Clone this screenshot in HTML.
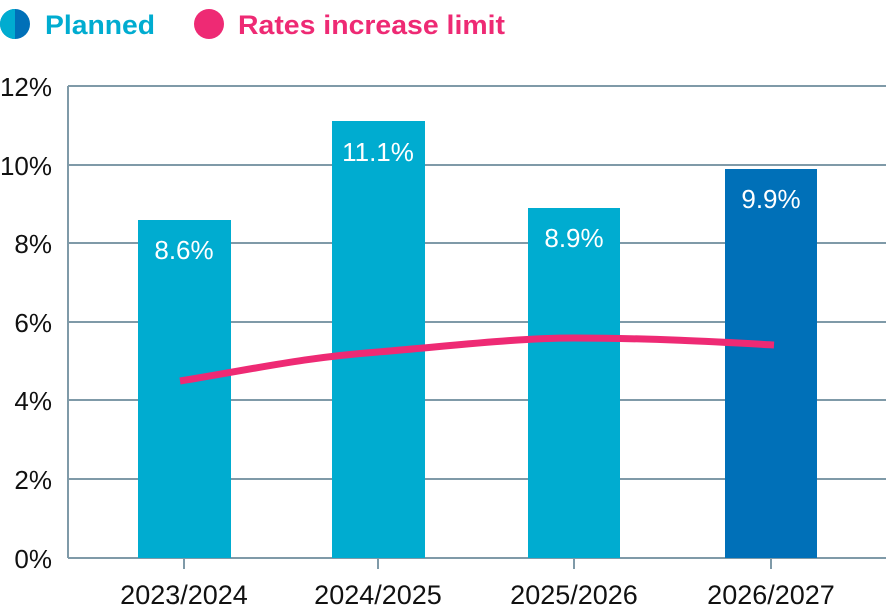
<!DOCTYPE html>
<html><head><meta charset="utf-8"><style>
html,body{margin:0;padding:0;background:#fff;}
svg{display:block;font-family:"Liberation Sans","DejaVu Sans",sans-serif;}
</style></head><body>
<svg width="886" height="616" viewBox="0 0 886 616" xmlns="http://www.w3.org/2000/svg">
<defs><clipPath id="lh"><rect x="0" y="0" width="15" height="50"/></clipPath></defs>
<circle cx="15" cy="24" r="15" fill="#0070b8"/>
<circle cx="15" cy="24" r="15" fill="#00acd0" clip-path="url(#lh)"/>
<text x="45" y="34" font-size="27" font-weight="bold" fill="#00acd0" textLength="110" lengthAdjust="spacingAndGlyphs">Planned</text>
<circle cx="209" cy="24" r="15" fill="#ee2a74"/>
<text x="238" y="34" font-size="27" font-weight="bold" fill="#ee2a74" textLength="267" lengthAdjust="spacingAndGlyphs">Rates increase limit</text>
<g stroke="#7f9aa8" stroke-width="2">
<line x1="68" y1="86" x2="886" y2="86"/>
<line x1="68" y1="165" x2="886" y2="165"/>
<line x1="68" y1="243" x2="886" y2="243"/>
<line x1="68" y1="322" x2="886" y2="322"/>
<line x1="68" y1="400" x2="886" y2="400"/>
<line x1="68" y1="479" x2="886" y2="479"/>
<line x1="68" y1="558" x2="886" y2="558"/>
<line x1="68" y1="86" x2="68" y2="558"/>
<line x1="184" y1="558" x2="184" y2="569"/>
<line x1="378" y1="558" x2="378" y2="569"/>
<line x1="574" y1="558" x2="574" y2="569"/>
<line x1="771" y1="558" x2="771" y2="569"/>
</g>
<g font-size="26" fill="#111" text-anchor="end">
<text x="52" y="96">12%</text>
<text x="52" y="175">10%</text>
<text x="52" y="253">8%</text>
<text x="52" y="332">6%</text>
<text x="52" y="410">4%</text>
<text x="52" y="489">2%</text>
<text x="52" y="568">0%</text>
</g>
<rect x="138" y="220" width="93" height="338" fill="#00acd0"/>
<rect x="332" y="121" width="93" height="437" fill="#00acd0"/>
<rect x="528" y="208" width="92" height="350" fill="#00acd0"/>
<rect x="725" y="169" width="92" height="389" fill="#0070b8"/>
<g font-size="26" fill="#fff" text-anchor="middle">
<text x="184" y="259">8.6%</text>
<text x="378" y="161">11.1%</text>
<text x="574" y="247">8.9%</text>
<text x="771" y="208">9.9%</text>
</g>
<path d="M180,381 C260,368 300,358 378,352 C460,345 520,338 574,338 C650,338 720,342 774,345" fill="none" stroke="#ee2a74" stroke-width="7"/>
<g font-size="27" fill="#111" text-anchor="middle">
<text x="184" y="604">2023/2024</text>
<text x="378" y="604">2024/2025</text>
<text x="574" y="604">2025/2026</text>
<text x="771" y="604">2026/2027</text>
</g>
</svg>
</body></html>
